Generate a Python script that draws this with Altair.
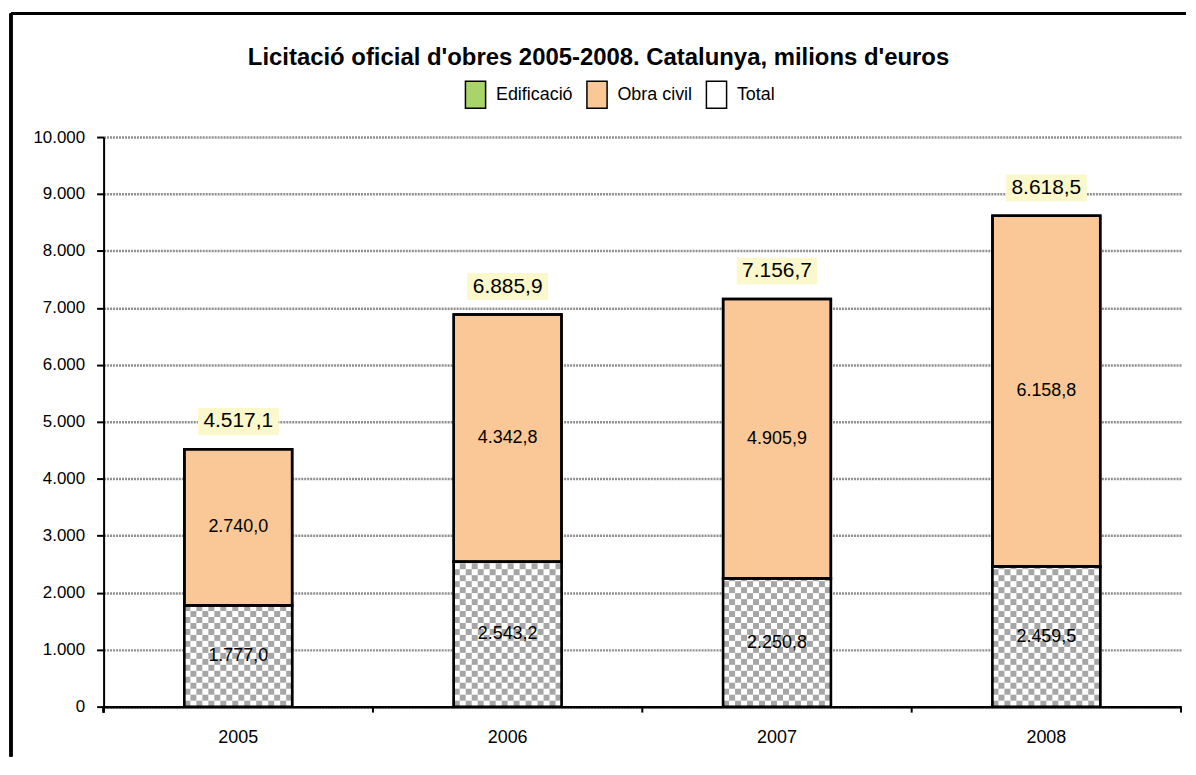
import math
import altair as alt
import pandas as pd

years = ["2005", "2006", "2007", "2008"]
edificacio = [1777.0, 2543.2, 2250.8, 2459.5]
obra_civil = [2740.0, 4342.8, 4905.9, 6158.8]
total = [4517.1, 6885.9, 7156.7, 8618.5]
series = ["Edificació", "Obra civil", "Total"]
y_ticks = [0, 1000, 2000, 3000, 4000, 5000, 6000, 7000, 8000, 9000, 10000]

W, H = 1082, 572
FONT = "Liberation Sans"
CELL_COLS = 18
CELL_H = 6 * 10000 / H  # cell height in data units (~6px)
STEP = W / 4


def fmt(v):
    s = f"{v:,.1f}"
    return s.replace(",", "X").replace(".", ",").replace("X", ".")


seg_rows = []
for i, y in enumerate(years):
    e, o = edificacio[i], obra_civil[i]
    seg_rows.append(dict(year=y, serie=series[0], y0=0.0, y1=e, mid=e / 2, label=fmt(e)))
    seg_rows.append(dict(year=y, serie=series[1], y0=e, y1=e + o, mid=e + o / 2, label=fmt(o)))
seg = pd.DataFrame(seg_rows)
seg_edif = seg[seg["serie"] == series[0]]

tot = pd.DataFrame(dict(year=years, total=total, label=[fmt(t) for t in total]))

cells = []
for i, y in enumerate(years):
    e = edificacio[i]
    nrows = math.ceil(e / CELL_H)
    for r in range(nrows):
        lo = r * CELL_H
        hi = min((r + 1) * CELL_H, e)
        for c in range(CELL_COLS):
            if (r + c) % 2 == 0:
                cells.append(dict(year=y, col=c, lo=lo, hi=hi))
cells = pd.DataFrame(cells)

xenc = alt.X("year:N", scale=alt.Scale(paddingInner=0.6, paddingOuter=0.3),
             axis=alt.Axis(title=None, ticks=False, labelFontSize=18, labelFont=FONT,
                           labelColor="black", labelPadding=22, labelAngle=0,
                           domainColor="black", domainWidth=2.5, grid=False))

yenc_scale = alt.Scale(domain=[0, 10000], nice=False)

bars = alt.Chart(seg).mark_bar(stroke="black", strokeWidth=2.5).encode(
    x=xenc,
    y=alt.Y("y1:Q", scale=yenc_scale,
            axis=alt.Axis(title=None, values=y_ticks, labelFontSize=17, labelFont=FONT,
                          labelColor="black", labelPadding=12, tickColor="black",
                          tickSize=7, tickWidth=2, domainColor="black", domainWidth=2,
                          gridColor="#8f8f8f", gridDash=[2, 1], gridWidth=2.5,
                          labelExpr="replace(format(datum.value, ','), ',', '.')")),
    y2="y0:Q",
    fill=alt.Fill("serie:N",
                  scale=alt.Scale(domain=series, range=["#a9d46a", "#f9c896", "#ffffff"]),
                  legend=alt.Legend(title=None, orient="none", legendX=359, legendY=-57,
                                    direction="horizontal",
                                    symbolType="M-0.75,-1L0.75,-1L0.75,1L-0.75,1Z",
                                    symbolSize=729, symbolStrokeColor="black",
                                    symbolStrokeWidth=1.5, symbolOpacity=1,
                                    labelFontSize=18, labelFont=FONT, labelColor="black",
                                    labelOffset=6, columnPadding=9)),
)

white_base = alt.Chart(seg_edif).mark_bar(fill="white", strokeWidth=0).encode(
    x=alt.X("year:N"), y=alt.Y("y1:Q"), y2="y0:Q")

checker = alt.Chart(cells).mark_bar(strokeWidth=0, fill="#a6a6a6").encode(
    x=alt.X("year:N"),
    xOffset=alt.XOffset("col:O", scale=alt.Scale(domain=list(range(CELL_COLS)),
                                                  paddingInner=0, paddingOuter=0)),
    y=alt.Y("hi:Q"),
    y2="lo:Q",
)

outline = alt.Chart(seg).mark_bar(stroke="black", strokeWidth=2.5, fillOpacity=0).encode(
    x=alt.X("year:N"), y=alt.Y("y1:Q"), y2="y0:Q")

seg_text = alt.Chart(seg).mark_text(fontSize=18, font=FONT, color="black").encode(
    x=alt.X("year:N"), y=alt.Y("mid:Q"), text="label:N")

tot_bg = alt.Chart(tot).mark_point(
    shape="M-1.5,-0.5L1.5,-0.5L1.5,0.5L-1.5,0.5Z", filled=True, fill="#fbf8cc",
    opacity=1, size=2916, strokeWidth=0, yOffset=-28).encode(
    x=alt.X("year:N"), y=alt.Y("total:Q"))

tot_text = alt.Chart(tot).mark_text(fontSize=21, font=FONT, color="black", yOffset=-28).encode(
    x=alt.X("year:N"), y=alt.Y("total:Q"), text="label:N")

xticks = alt.Chart(tot).mark_rule(color="black", strokeWidth=2, xOffset=0.3 * STEP).encode(
    x=alt.X("year:N", bandPosition=1), y=alt.value(H), y2=alt.value(H + 6))
xtick0 = alt.Chart(tot).mark_rule(color="black", strokeWidth=2).encode(
    x=alt.value(0), y=alt.value(H), y2=alt.value(H + 6))

frame_left = alt.Chart(tot).mark_rule(color="black", strokeWidth=3).encode(
    x=alt.value(-93), y=alt.value(-124), y2=alt.value(H + 50))
frame_top = alt.Chart(tot).mark_rule(color="black", strokeWidth=3).encode(
    x=alt.value(-93), x2=alt.value(W + 5), y=alt.value(-124))

chart = alt.layer(
    bars, white_base, checker, outline, seg_text, tot_bg, tot_text, xticks, xtick0,
    frame_left, frame_top
).properties(
    width=W, height=H,
    padding={"left": 1, "top": 2, "right": 0, "bottom": 0},
    title=alt.TitleParams("Licitació oficial d'obres  2005-2008. Catalunya, milions d'euros",
                          fontSize=24, font=FONT, fontWeight="bold", color="black",
                          anchor="middle", frame="bounds", offset=-58),
).configure_view(stroke=None)

chart.save("out.html", embed_options={"renderer": "svg", "actions": False})
